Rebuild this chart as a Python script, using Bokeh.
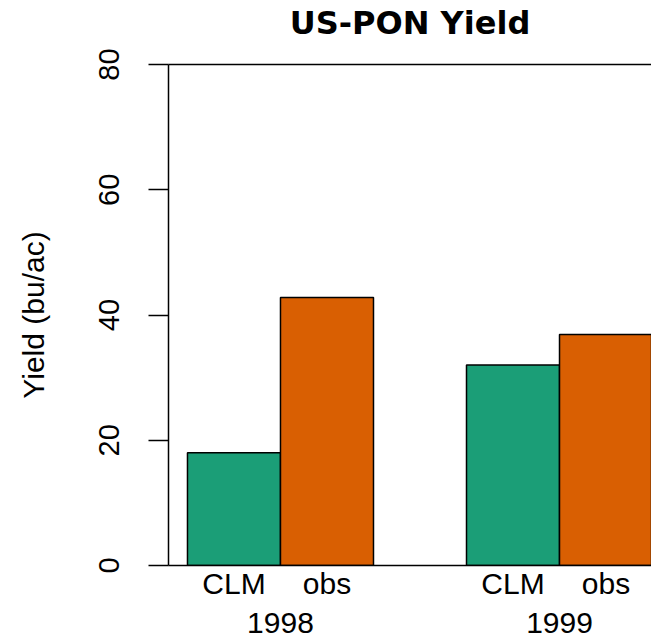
from bokeh.plotting import figure
from bokeh.models import LinearAxis, FixedTicker, Range1d
from bokeh.embed import file_html
from bokeh.resources import INLINE

# ---- data ----
title_text = "US-PON Yield"
years = ["1998", "1999"]
models = ["CLM", "obs"]
clm_values = [18.0, 32.0]
obs_values = [42.8, 36.9]
y_ticks = [0, 20, 40, 60, 80]
colors = {"CLM": "#1B9E77", "obs": "#D95F02"}

FONT = "Liberation Sans"

# R-barplot style positions: bar width 1, one empty unit between groups
xs, tops, fills, sub_ticks, sub_labels, grp_ticks = [], [], [], [], [], []
series = {"CLM": clm_values, "obs": obs_values}
for gi, yr in enumerate(years):
    for mi, m in enumerate(models):
        x = gi * 3 + mi + 1.5
        xs.append(x)
        tops.append(series[m][gi])
        fills.append(colors[m])
        sub_ticks.append(x)
        sub_labels.append(m)
    grp_ticks.append(gi * 3 + 2)

p = figure(width=651, height=638, output_backend="svg", toolbar_location=None,
           x_range=Range1d(0.796, 5.989), y_range=Range1d(0, 80),
           min_border_left=168, min_border_right=0, min_border_top=63,
           min_border_bottom=73)
p.background_fill_color = "white"
p.border_fill_color = "white"
p.outline_line_color = None
p.xgrid.visible = False
p.ygrid.visible = False

p.vbar(x=xs, top=tops, width=1.0, bottom=0, fill_color=fills,
       line_color="black", line_width=1.5)

# y axis
ya = p.yaxis[0]
ya.ticker = FixedTicker(ticks=y_ticks)
ya.major_tick_out = 20
ya.major_tick_in = 0
ya.minor_tick_out = 0
ya.minor_tick_in = 0
ya.major_tick_line_width = 1.5
ya.axis_line_width = 1.5
ya.major_label_orientation = "vertical"
ya.major_label_standoff = 30
ya.major_label_text_font = FONT
ya.major_label_text_font_size = "29px"
ya.major_label_text_color = "black"
ya.axis_label = "Yield (bu/ac)"
ya.axis_label_text_font = FONT
ya.axis_label_text_font_size = "30px"
ya.axis_label_text_font_style = "normal"
ya.axis_label_text_color = "black"
ya.axis_label_standoff = 46

# x axis: bar labels
xa = p.xaxis[0]
xa.ticker = FixedTicker(ticks=sub_ticks)
xa.major_label_overrides = {t: lab for t, lab in zip(sub_ticks, sub_labels)}
xa.major_tick_out = 0
xa.major_tick_in = 0
xa.minor_tick_out = 0
xa.minor_tick_in = 0
xa.axis_line_width = 1.5
xa.major_label_standoff = 1
xa.major_label_text_font = FONT
xa.major_label_text_font_size = "30px"
xa.major_label_text_color = "black"

# x axis: group labels
ga = LinearAxis(ticker=FixedTicker(ticks=grp_ticks),
                major_label_overrides={t: y for t, y in zip(grp_ticks, years)},
                major_tick_out=0, major_tick_in=0, minor_tick_out=0, minor_tick_in=0,
                axis_line_color=None, major_label_standoff=10,
                major_label_text_font=FONT, major_label_text_font_size="30px",
                major_label_text_color="black")
p.add_layout(ga, "below")

# top line at y = 80, carrying the chart title
ta = LinearAxis(ticker=FixedTicker(ticks=[]), major_tick_out=0, major_tick_in=0,
                minor_tick_out=0, minor_tick_in=0, axis_line_width=1.5,
                major_label_standoff=0, major_label_text_font_size="0px",
                axis_label=title_text, axis_label_standoff=23,
                axis_label_text_font="DejaVu Sans", axis_label_text_font_size="32px",
                axis_label_text_font_style="bold", axis_label_text_color="black")
p.add_layout(ta, "above")

open("out.html", "w").write(file_html(p, INLINE))
